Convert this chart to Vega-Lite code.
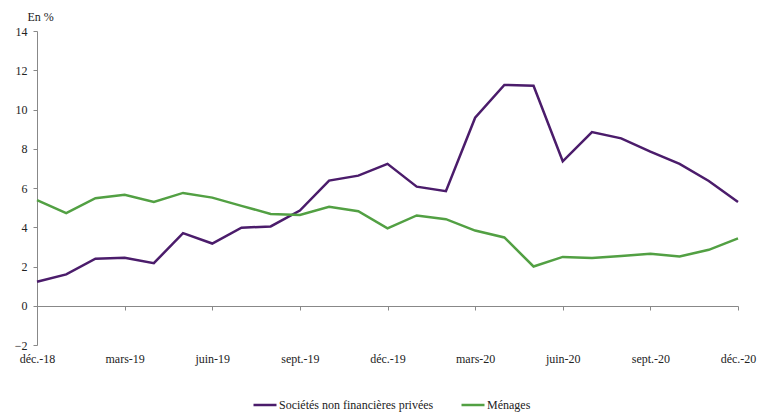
{
  "$schema": "https://vega.github.io/schema/vega-lite/v6.json",
  "width": 701,
  "height": 314,
  "autosize": {"type": "none"},
  "padding": {"left": 37, "top": 31, "right": 24, "bottom": 70},
  "background": "white",
  "config": {
    "view": {"stroke": null},
    "font": "Liberation Serif",
    "axis": {"labelFont": "Liberation Serif", "titleFont": "Liberation Serif", "labelFontSize": 12, "labelColor": "#222", "domainColor": "#888", "tickColor": "#888", "grid": false}
  },
  "data": {
    "values": [
      {"mois": "déc.-18", "serie": "Sociétés non financières privées", "valeur": 1.22},
      {"mois": "janv.-19", "serie": "Sociétés non financières privées", "valeur": 1.6},
      {"mois": "févr.-19", "serie": "Sociétés non financières privées", "valeur": 2.4},
      {"mois": "mars-19", "serie": "Sociétés non financières privées", "valeur": 2.45},
      {"mois": "avr.-19", "serie": "Sociétés non financières privées", "valeur": 2.17},
      {"mois": "mai-19", "serie": "Sociétés non financières privées", "valeur": 3.7},
      {"mois": "juin-19", "serie": "Sociétés non financières privées", "valeur": 3.17},
      {"mois": "juil.-19", "serie": "Sociétés non financières privées", "valeur": 3.98},
      {"mois": "août-19", "serie": "Sociétés non financières privées", "valeur": 4.04},
      {"mois": "sept.-19", "serie": "Sociétés non financières privées", "valeur": 4.85},
      {"mois": "oct.-19", "serie": "Sociétés non financières privées", "valeur": 6.38},
      {"mois": "nov.-19", "serie": "Sociétés non financières privées", "valeur": 6.63},
      {"mois": "déc.-19", "serie": "Sociétés non financières privées", "valeur": 7.23},
      {"mois": "janv.-20", "serie": "Sociétés non financières privées", "valeur": 6.07},
      {"mois": "févr.-20", "serie": "Sociétés non financières privées", "valeur": 5.84},
      {"mois": "mars-20", "serie": "Sociétés non financières privées", "valeur": 9.58},
      {"mois": "avr.-20", "serie": "Sociétés non financières privées", "valeur": 11.25},
      {"mois": "mai-20", "serie": "Sociétés non financières privées", "valeur": 11.21},
      {"mois": "juin-20", "serie": "Sociétés non financières privées", "valeur": 7.36},
      {"mois": "juil.-20", "serie": "Sociétés non financières privées", "valeur": 8.85},
      {"mois": "août-20", "serie": "Sociétés non financières privées", "valeur": 8.53},
      {"mois": "sept.-20", "serie": "Sociétés non financières privées", "valeur": 7.85},
      {"mois": "oct.-20", "serie": "Sociétés non financières privées", "valeur": 7.23},
      {"mois": "nov.-20", "serie": "Sociétés non financières privées", "valeur": 6.36},
      {"mois": "déc.-20", "serie": "Sociétés non financières privées", "valeur": 5.29},
      {"mois": "déc.-18", "serie": "Ménages", "valeur": 5.38},
      {"mois": "janv.-19", "serie": "Ménages", "valeur": 4.72},
      {"mois": "févr.-19", "serie": "Ménages", "valeur": 5.48},
      {"mois": "mars-19", "serie": "Ménages", "valeur": 5.65},
      {"mois": "avr.-19", "serie": "Ménages", "valeur": 5.29},
      {"mois": "mai-19", "serie": "Ménages", "valeur": 5.75},
      {"mois": "juin-19", "serie": "Ménages", "valeur": 5.51},
      {"mois": "juil.-19", "serie": "Ménages", "valeur": 5.09},
      {"mois": "août-19", "serie": "Ménages", "valeur": 4.68},
      {"mois": "sept.-19", "serie": "Ménages", "valeur": 4.63},
      {"mois": "oct.-19", "serie": "Ménages", "valeur": 5.04},
      {"mois": "nov.-19", "serie": "Ménages", "valeur": 4.82},
      {"mois": "déc.-19", "serie": "Ménages", "valeur": 3.94},
      {"mois": "janv.-20", "serie": "Ménages", "valeur": 4.6},
      {"mois": "févr.-20", "serie": "Ménages", "valeur": 4.41},
      {"mois": "mars-20", "serie": "Ménages", "valeur": 3.83},
      {"mois": "avr.-20", "serie": "Ménages", "valeur": 3.48},
      {"mois": "mai-20", "serie": "Ménages", "valeur": 2.0},
      {"mois": "juin-20", "serie": "Ménages", "valeur": 2.49},
      {"mois": "juil.-20", "serie": "Ménages", "valeur": 2.43},
      {"mois": "août-20", "serie": "Ménages", "valeur": 2.54},
      {"mois": "sept.-20", "serie": "Ménages", "valeur": 2.65},
      {"mois": "oct.-20", "serie": "Ménages", "valeur": 2.51},
      {"mois": "nov.-20", "serie": "Ménages", "valeur": 2.85},
      {"mois": "déc.-20", "serie": "Ménages", "valeur": 3.43}
    ]
  },
  "mark": {"type": "line", "strokeWidth": 2.5, "strokeJoin": "miter"},
  "encoding": {
    "x": {
      "field": "mois",
      "type": "ordinal",
      "sort": null,
      "scale": {"type": "point", "padding": 0},
      "axis": {
        "title": null,
        "orient": "bottom",
        "offset": -39,
        "values": ["déc.-18", "mars-19", "juin-19", "sept.-19", "déc.-19", "mars-20", "juin-20", "sept.-20", "déc.-20"],
        "labelAngle": 0,
        "tickSize": 4,
        "labelPadding": 43,
        "domainColor": "#888",
        "labelFontSize": 12
      }
    },
    "y": {
      "field": "valeur",
      "type": "quantitative",
      "scale": {"domain": [-2, 14], "nice": false, "zero": false},
      "axis": {
        "values": [-2, 0, 2, 4, 6, 8, 10, 12, 14],
        "tickSize": 4,
        "labelPadding": 6,
        "title": "En %",
        "titleAngle": 0,
        "titleAlign": "left",
        "titleBaseline": "alphabetic",
        "titleX": -10,
        "titleY": -11,
        "titleFontSize": 12,
        "titleFontWeight": "normal",
        "titleColor": "#222"
      }
    },
    "color": {
      "field": "serie",
      "type": "nominal",
      "scale": {"domain": ["Sociétés non financières privées", "Ménages"], "range": ["#4B1C6B", "#52A043"]},
      "legend": {
        "title": null,
        "orient": "none",
        "direction": "horizontal",
        "legendX": 215,
        "legendY": 361,
        "symbolType": "stroke",
        "symbolSize": 529,
        "symbolStrokeWidth": 2.5,
        "labelOffset": 1,
        "columnPadding": 22,
        "labelFont": "Liberation Serif",
        "labelFontSize": 12,
        "labelColor": "#222"
      }
    }
  }
}
